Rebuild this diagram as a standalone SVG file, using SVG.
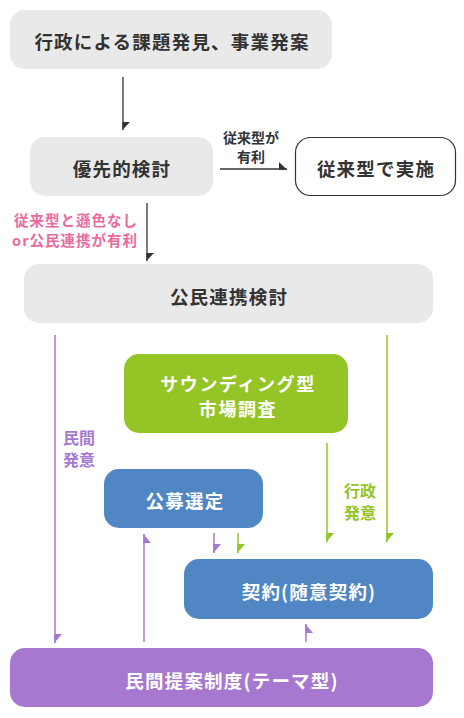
<svg xmlns="http://www.w3.org/2000/svg" width="464" height="718" viewBox="0 0 464 718">
<style>
text{font-family:"Noto Sans CJK JP","Noto Sans",sans-serif;text-anchor:middle;dominant-baseline:central}
.g{fill:#e9e9e9}
.t{font-size:18.5px;font-weight:bold;fill:#333;letter-spacing:1.2px}
.w{font-size:18.5px;font-weight:bold;fill:#fff;letter-spacing:1.2px}
.w2{font-size:18px;font-weight:bold;fill:#fff;letter-spacing:1.6px}
.lb{font-size:14px;font-weight:bold}
.lm{font-size:16px;font-weight:bold}
.lp{font-size:14.5px;font-weight:bold;fill:#ea6a9e;text-anchor:end;letter-spacing:1px}
.dk{stroke:#333;stroke-width:1.3;fill:none}
.pu{stroke:#a678d0;stroke-width:1.5;fill:none}
.gr{stroke:#94c426;stroke-width:1.5;fill:none}
</style>
<rect width="464" height="718" fill="#fff"/>
<g id="n1"><rect class="g" x="10" y="10" width="322" height="59" rx="15"/><text class="t" x="172" y="41">行政による課題発見、事業発案</text></g>
<g id="n2"><rect class="g" x="30" y="137" width="183" height="59" rx="15"/><text class="t" x="122" y="168">優先的検討</text></g>
<g id="n3"><rect x="295.5" y="137.5" width="160" height="58" rx="15" fill="#fff" stroke="#333" stroke-width="1.2"/><text class="t" x="376" y="168">従来型で実施</text></g>
<g id="n4"><rect class="g" x="24" y="264" width="409" height="59" rx="15"/><text class="t" x="229" y="296">公民連携検討</text></g>
<g id="n5"><rect x="124" y="354" width="224" height="79" rx="15" fill="#94c426"/><text class="w2" x="238" y="383">サウンディング型</text><text class="w2" x="238" y="408">市場調査</text></g>
<g id="n6"><rect x="104" y="469" width="159" height="59" rx="15" fill="#5086c4"/><text class="w" x="185" y="500">公募選定</text></g>
<g id="n7"><rect x="184" y="559" width="249" height="60" rx="15" fill="#5086c4"/><text class="w" x="309" y="591">契約(随意契約)</text></g>
<g id="n8"><rect x="10" y="648" width="423" height="59" rx="15" fill="#a678d0"/><text class="w" x="232" y="680">民間提案制度(テーマ型)</text></g>
<g id="connectors">
<path class="dk" d="M123 77V130"/><polygon fill="#333" points="122.3,122 130,122 122.3,130"/>
<path class="dk" d="M220 169H287"/><polygon fill="#333" points="279,162 279,169.7 287,169.7"/>
<text class="lb" x="251" y="137" fill="#333">従来型が</text><text class="lb" x="251" y="156" fill="#333">有利</text>
<path class="dk" d="M147 203V261"/><polygon fill="#333" points="146.3,253 154,253 146.3,261"/>
<text class="lp" x="138" y="219">従来型と遜色なし</text>
<text class="lp" x="138" y="239">or公民連携が有利</text>
<path class="pu" d="M55 335V643"/><polygon fill="#a678d0" points="54.3,634 62,634 54.3,643"/>
<text class="lm" x="79" y="437" fill="#a678d0">民間</text><text class="lm" x="79" y="459" fill="#a678d0">発意</text>
<path class="gr" d="M387 335V542"/><polygon fill="#94c426" points="386.3,533 394,533 386.3,542"/>
<path class="gr" d="M327 443V542"/><polygon fill="#94c426" points="326.3,533 334,533 326.3,542"/>
<text class="lm" x="360" y="490" fill="#94c426">行政</text><text class="lm" x="360" y="512" fill="#94c426">発意</text>
<path class="pu" d="M144 642V534"/><polygon fill="#a678d0" points="143.3,534 143.3,543 151,543"/>
<path class="pu" d="M214 533V553"/><polygon fill="#a678d0" points="213.3,544 221,544 213.3,553"/>
<path class="gr" d="M238 533V553"/><polygon fill="#94c426" points="237.3,544 245,544 237.3,553"/>
<path class="pu" d="M306 642V624"/><polygon fill="#a678d0" points="305.3,624 305.3,633 313,633"/>
</g>
</svg>
